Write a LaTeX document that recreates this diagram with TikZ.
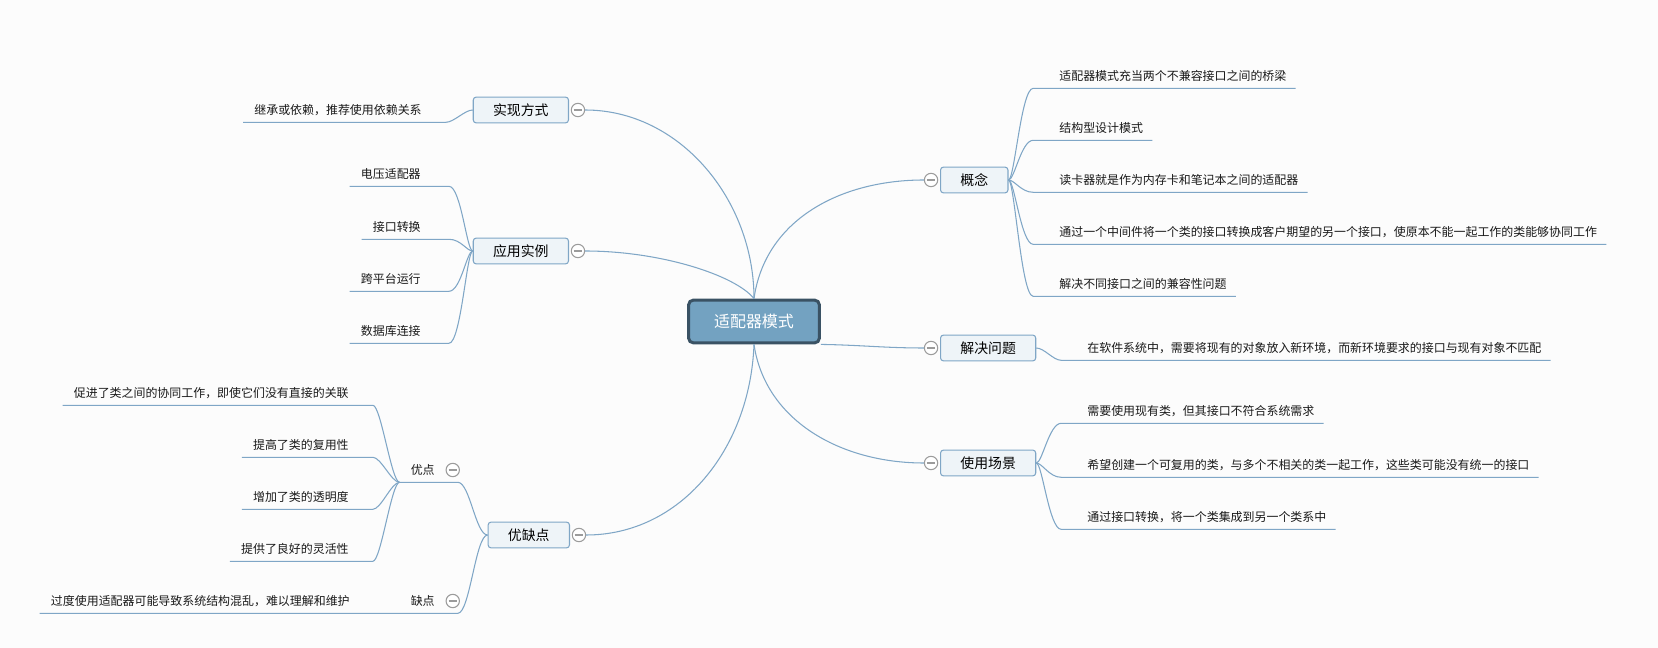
\documentclass[tikz,border=0pt]{standalone}
\usepackage{fontspec}
\setmainfont{Noto Sans CJK SC}
\usetikzlibrary{positioning}
\definecolor{linkblue}{HTML}{7FA6C6}
\definecolor{rootfill}{HTML}{73A2C1}
\definecolor{rootline}{HTML}{3A5264}
\definecolor{topicfill}{HTML}{EEF4F8}
\definecolor{foldgray}{HTML}{9B9B9B}
\definecolor{bgcolor}{HTML}{FCFCFC}

\begin{document}
\begin{tikzpicture}[x=0.02cm, y=-0.02cm,
    root/.style={draw=rootline, line width=1.7pt, rounded corners=2.8pt, fill=rootfill, text=white, font=\fontsize{9.1}{11}\selectfont, minimum height=24.4pt, inner xsep=14.5pt},
    topic/.style={draw=linkblue, line width=0.6pt, rounded corners=1.7pt, fill=topicfill, font=\fontsize{7.9}{9.5}\selectfont, minimum height=14.7pt, inner xsep=11.3pt, inner ysep=0pt},
    leaf/.style={font=\fontsize{6.8}{8}\selectfont, text=black!90, minimum height=13.6pt, inner xsep=0pt, inner ysep=0pt},
    fold/.style={circle, draw=foldgray, fill=white, line width=0.6pt, minimum size=7.6pt, inner sep=0pt,
      path picture={\draw[foldgray, line width=0.6pt] ([xshift=1.4pt]path picture bounding box.west) -- ([xshift=-1.4pt]path picture bounding box.east);}},
    link/.style={draw=linkblue, line width=0.6pt}
  ]
    \useasboundingbox[fill=bgcolor] (0,0) rectangle (1658,648);

    \node[root] (root) at (754,321.5) {适配器模式};

    % left topics
    \node[topic, anchor=east] (sx) at (569,110) {实现方式};
    \node[fold, right=1pt of sx] (sxf) {};
    \node[topic, anchor=east] (yy) at (569,251) {应用实例};
    \node[fold, right=1pt of yy] (yyf) {};
    \node[topic, anchor=east] (yq) at (570,535) {优缺点};
    \node[fold, right=1pt of yq] (yqf) {};

    % right topics
    \node[topic, anchor=west] (gn) at (940,180) {概念};
    \node[fold, left=1pt of gn] (gnf) {};
    \node[topic, anchor=west] (jj) at (940,348) {解决问题};
    \node[fold, left=1pt of jj] (jjf) {};
    \node[topic, anchor=west] (sy) at (940,463) {使用场景};
    \node[fold, left=1pt of sy] (syf) {};

    % right leaves
    \node[leaf, anchor=west] (gn1) at (1059,76) {适配器模式充当两个不兼容接口之间的桥梁};
    \node[leaf, anchor=west] (gn2) at (1059,128) {结构型设计模式};
    \node[leaf, anchor=west] (gn3) at (1059,180) {读卡器就是作为内存卡和笔记本之间的适配器};
    \node[leaf, anchor=west] (gn4) at (1059,232) {通过一个中间件将一个类的接口转换成客户期望的另一个接口，使原本不能一起工作的类能够协同工作};
    \node[leaf, anchor=west] (gn5) at (1059,284) {解决不同接口之间的兼容性问题};
    \node[leaf, anchor=west] (jj1) at (1087,348) {在软件系统中，需要将现有的对象放入新环境，而新环境要求的接口与现有对象不匹配};
    \node[leaf, anchor=west] (sy1) at (1087,411) {需要使用现有类，但其接口不符合系统需求};
    \node[leaf, anchor=west] (sy2) at (1087,465) {希望创建一个可复用的类，与多个不相关的类一起工作，这些类可能没有统一的接口};
    \node[leaf, anchor=west] (sy3) at (1087,517) {通过接口转换，将一个类集成到另一个类系中};

    % left leaves
    \node[leaf, anchor=east] (sx1) at (422,110) {继承或依赖，推荐使用依赖关系};
    \node[leaf, anchor=east] (yy1) at (421,174) {电压适配器};
    \node[leaf, anchor=east] (yy2) at (421,227) {接口转换};
    \node[leaf, anchor=east] (yy3) at (421,279) {跨平台运行};
    \node[leaf, anchor=east] (yy4) at (421,331) {数据库连接};
    \node[leaf, anchor=east] (yd) at (435,470) {优点};
    \node[fold, right=6pt of yd] (ydf) {};
    \node[leaf, anchor=east] (qd) at (435,601) {缺点};
    \node[fold, right=6pt of qd] (qdf) {};
    \node[leaf, anchor=east] (yd1) at (349,393) {促进了类之间的协同工作，即使它们没有直接的关联};
    \node[leaf, anchor=east] (yd2) at (349,445) {提高了类的复用性};
    \node[leaf, anchor=east] (yd3) at (349,497) {增加了类的透明度};
    \node[leaf, anchor=east] (yd4) at (349,549) {提供了良好的灵活性};
    \node[leaf, anchor=east] (qd1) at (350,601) {过度使用适配器可能导致系统结构混乱，难以理解和维护};

    % root to topics
    \draw[link] (root.north) .. controls (754,200) and (680,110) .. (sxf.east);
    \draw[link] (root.north) .. controls (735,275) and (660,251) .. (yyf.east);
    \draw[link] (root.north) .. controls (765,220) and (840,180) .. (gnf.west);
    \draw[link] (root.south east) .. controls (860,345) and (885,348) .. (jjf.west);
    \draw[link] (root.south) .. controls (765,420) and (840,463) .. (syf.west);
    \draw[link] (root.south) .. controls (750,450) and (680,535) .. (yqf.east);

    % topics to right leaves
    \draw[link] (gn.east) .. controls +(6,0) and +(-12,0) .. ([xshift=-14.7pt]gn1.south west) -- ([xshift=5.1pt]gn1.south east);
    \draw[link] (gn.east) .. controls +(6,0) and +(-12,0) .. ([xshift=-14.7pt]gn2.south west) -- ([xshift=5.1pt]gn2.south east);
    \draw[link] (gn.east) .. controls +(6,0) and +(-12,0) .. ([xshift=-14.7pt]gn3.south west) -- ([xshift=5.1pt]gn3.south east);
    \draw[link] (gn.east) .. controls +(6,0) and +(-12,0) .. ([xshift=-14.7pt]gn4.south west) -- ([xshift=5.1pt]gn4.south east);
    \draw[link] (gn.east) .. controls +(6,0) and +(-12,0) .. ([xshift=-14.7pt]gn5.south west) -- ([xshift=5.1pt]gn5.south east);
    \draw[link] (jj.east) .. controls +(8,0) and +(-8,0) .. ([xshift=-14.7pt]jj1.south west) -- ([xshift=5.1pt]jj1.south east);
    \draw[link] (sy.east) .. controls +(6,0) and +(-12,0) .. ([xshift=-14.7pt]sy1.south west) -- ([xshift=5.1pt]sy1.south east);
    \draw[link] (sy.east) .. controls +(6,0) and +(-12,0) .. ([xshift=-14.7pt]sy2.south west) -- ([xshift=5.1pt]sy2.south east);
    \draw[link] (sy.east) .. controls +(6,0) and +(-12,0) .. ([xshift=-14.7pt]sy3.south west) -- ([xshift=5.1pt]sy3.south east);

    % topics to left leaves
    \draw[link] (sx.west) .. controls +(-8,0) and +(8,0) .. ([xshift=13.6pt]sx1.south east) -- ([xshift=-6.2pt]sx1.south west);
    \draw[link] (yy.west) .. controls +(-6,0) and +(12,0) .. ([xshift=15.9pt]yy1.south east) -- ([xshift=-6.2pt]yy1.south west);
    \draw[link] (yy.west) .. controls +(-6,0) and +(12,0) .. ([xshift=15.9pt]yy2.south east) -- ([xshift=-6.2pt]yy2.south west);
    \draw[link] (yy.west) .. controls +(-6,0) and +(12,0) .. ([xshift=15.9pt]yy3.south east) -- ([xshift=-6.2pt]yy3.south west);
    \draw[link] (yy.west) .. controls +(-6,0) and +(12,0) .. ([xshift=15.9pt]yy4.south east) -- ([xshift=-6.2pt]yy4.south west);
    \draw[link] (yq.west) .. controls +(-12,0) and +(12,0) .. ([xshift=13pt]yd.south east) -- ([xshift=-6.2pt]yd.south west);
    \draw[link] (yq.west) .. controls +(-12,0) and +(12,0) .. ([xshift=13pt]qd.south east) -- ([xshift=-6.2pt]qd1.south west);

    % pros
    \draw[link] ([xshift=-6.2pt]yd.south west) .. controls +(-8,0) and +(8,0) .. ([xshift=13.6pt]yd1.south east) -- ([xshift=-6.2pt]yd1.south west);
    \draw[link] ([xshift=-6.2pt]yd.south west) .. controls +(-8,0) and +(8,0) .. ([xshift=13.6pt]yd2.south east) -- ([xshift=-6.2pt]yd2.south west);
    \draw[link] ([xshift=-6.2pt]yd.south west) .. controls +(-8,0) and +(8,0) .. ([xshift=13.6pt]yd3.south east) -- ([xshift=-6.2pt]yd3.south west);
    \draw[link] ([xshift=-6.2pt]yd.south west) .. controls +(-8,0) and +(8,0) .. ([xshift=13.6pt]yd4.south east) -- ([xshift=-6.2pt]yd4.south west);
\end{tikzpicture}
\end{document}
